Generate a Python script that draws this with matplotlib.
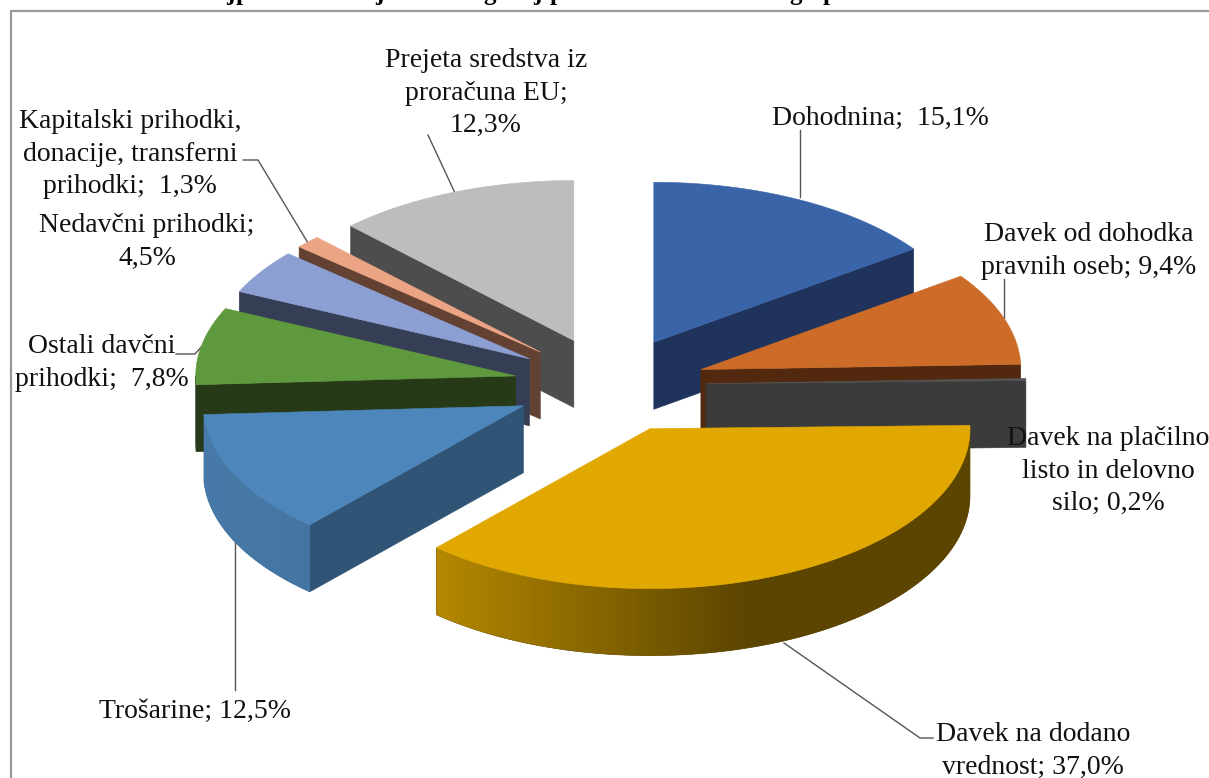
import numpy as np
from matplotlib import pyplot as plt
from matplotlib.colors import to_rgb
from matplotlib.patches import Polygon

categories = ['Dohodnina', 'Davek od dohodka pravnih oseb', 'Davek na plačilno listo in delovno silo',
              'Davek na dodano vrednost', 'Trošarine', 'Ostali davčni prihodki', 'Nedavčni prihodki',
              'Kapitalski prihodki, donacije, transferni prihodki', 'Prejeta sredstva iz proračuna EU']
shares = [15.1, 9.4, 0.2, 37.0, 12.5, 7.8, 4.5, 1.3, 12.3]
top_colors = ['#3a64a8', '#cc6c28', '#555555', '#e0a800', '#4d86bb', '#5f993d', '#8c9fd3', '#eca584', '#bdbdbd']
side_colors = ['#1f335c', '#52290f', '#3b3b3b', '#5c4500', '#2f5476', '#273a18', '#363e55', '#634234', '#4d4d4d']
arc_left = ['#1f335c', '#52290f', '#3b3b3b', '#b58800', '#477aa8', '#273a18', '#363e55', '#634234', '#4d4d4d']
arc_right = ['#1f335c', '#52290f', '#3b3b3b', '#5c4500', '#3f6d98', '#273a18', '#363e55', '#634234', '#4d4d4d']
draw_order = [0, 8, 7, 6, 5, 1, 2, 4, 3]

labels = ['Dohodnina;  15,1%', 'Davek od dohodka\npravnih oseb; 9,4%', 'Davek na plačilno\nlisto in delovno\nsilo; 0,2%',
          'Davek na dodano\nvrednost; 37,0%', 'Trošarine; 12,5%', 'Ostali davčni\nprihodki;  7,8%',
          'Nedavčni prihodki;\n4,5%', 'Kapitalski prihodki,\ndonacije, transferni\nprihodki;  1,3%',
          'Prejeta sredstva iz\nproračuna EU;\n12,3%']
label_pos = [(880, 118), (1089, 251), (1108, 471), (1033, 751), (195, 711), (102, 363), (147, 242), (130, 154), (486, 93)]
leaders = [[(800, 130), (800, 197)],
           [(1004, 279), (1004, 318)],
           [(784, 643), (920, 738), (933, 738)],
           [(235, 542), (235, 690)],
           [(176, 354), (195, 354), (203, 345)],
           [(243, 160), (258, 160), (308, 243)],
           [(428, 135), (455, 193)]]
# only the descenders of the cropped title survive in the picture
title_bits = [(230, 'j'), (243, 'p'), (379, 'j'), (490, 'g'), (537, 'j'), (557, 'p'), (796, 'g'), (830, 'p')]

CX, CY = 610, 385   # pie centre
RX, RY = 320, 160   # ellipse radii
EXPLODE = 0.3
DEPTH = 67


def project(theta, r=1.0):
    """clockwise from 12 o'clock, degrees"""
    t = np.radians(theta)
    return CX + r * RX * np.sin(t), CY - r * RY * np.cos(t)


def poly(ax, pts, color, z):
    p = Polygon(pts, closed=True, facecolor=color, edgecolor=color, linewidth=0.4, zorder=z)
    ax.add_patch(p)
    return p


def draw_slice(ax, start, end, top, side, c_left, c_right, z):
    mid = (start + end) / 2
    ox, oy = project(mid, EXPLODE)
    ox, oy = ox - CX, oy - CY
    th = np.linspace(start, end, 120)
    xs, ys = project(th)
    xs, ys = xs + ox, ys + oy
    apex = (CX + ox, CY + oy)

    # radial faces that look at the viewer
    if 180 <= start <= 360:
        a = (xs[0], ys[0])
        poly(ax, [apex, a, (a[0], a[1] + DEPTH), (apex[0], apex[1] + DEPTH)], side, z)
    if 0 <= end <= 180:
        a = (xs[-1], ys[-1])
        poly(ax, [apex, a, (a[0], a[1] + DEPTH), (apex[0], apex[1] + DEPTH)], side, z)

    # outer wall, gradient from left (light) to right (dark)
    lo, hi = max(start, 90), min(end, 270)
    if hi > lo:
        tw = np.linspace(lo, hi, 90)
        wx, wy = project(tw)
        wx, wy = wx + ox, wy + oy
        outline = list(zip(wx, wy)) + list(zip(wx[::-1], wy[::-1] + DEPTH))
        clip = poly(ax, outline, c_right, z)
        left, right = wx.min(), wx.max()
        f = np.clip((np.linspace(left, right, 256) - left) / 310.0, 0, 1)[None, :, None]
        grad = np.array(to_rgb(c_left))[None, None, :] * (1 - f) + np.array(to_rgb(c_right))[None, None, :] * f
        im = ax.imshow(grad, extent=[left, right, wy.max() + DEPTH, wy.min()], aspect='auto', zorder=z + 0.2,
                       interpolation='bilinear')
        im.set_clip_path(clip)

    poly(ax, [apex] + list(zip(xs, ys)), top, z + 0.5)


plt.rcParams['font.family'] = ['Liberation Serif', 'DejaVu Serif']
fig = plt.figure(figsize=(12.09, 7.78), dpi=100)
ax = fig.add_axes([0, 0, 1, 1])
ax.axis('off')

for x, s in title_bits:
    ax.text(x, 0, s, fontsize=18, fontweight='bold', ha='center', va='baseline', color='black')

# chart frame
ax.plot([10.5, 10.5, 1209], [778, 11, 11], color='#999999', lw=1.6, zorder=1)

for pts in leaders:
    px, py = zip(*pts)
    ax.plot(px, py, color='#555555', lw=1, zorder=2)

edges = np.concatenate([[0], np.cumsum(shares)]) / sum(shares) * 360
for n, i in enumerate(draw_order):
    draw_slice(ax, edges[i], edges[i + 1], top_colors[i], side_colors[i], arc_left[i], arc_right[i], 3 + n)

for (x, y), s in zip(label_pos, labels):
    ax.text(x, y, s, fontsize=20, ha='center', va='center', linespacing=1.4, color='#111111', zorder=30)

ax.set_xlim(0, 1209)
ax.set_ylim(778, 0)
fig.savefig('out.png', dpi=100)
